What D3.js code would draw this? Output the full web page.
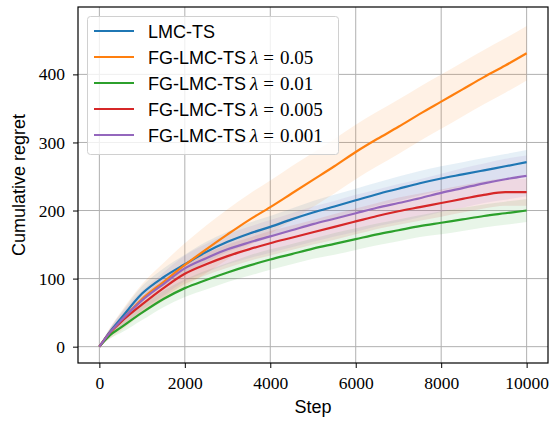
<!DOCTYPE html>
<html>
<head>
<meta charset="utf-8">
<script src="https://cdn.jsdelivr.net/npm/d3@7"></script>
<style>
  body { margin: 0; background: #fff; }
</style>
</head>
<body>
<div id="chart"></div>
<script>
// steps where the curves are sampled
const steps = [0, 250, 500, 1000, 1500, 2000, 2500, 3000, 3500, 4000, 4500, 5000,
               5500, 6000, 6500, 7000, 7500, 8000, 8500, 9000, 9500, 10000];

// mean cumulative regret per method
const lmcTs    = [0, 22, 41, 78, 102, 121, 139, 154, 166, 176, 187, 197, 206, 215, 224, 232, 240, 247, 253, 259, 265, 271];
const fg005    = [0, 20, 37, 70, 95, 120, 143, 165, 186, 205, 225, 245, 265, 286, 305, 323, 342, 360, 378, 396, 413, 431];
const fg001    = [0, 17, 28, 50, 70, 86, 98, 109, 119, 128, 136, 144, 151, 158, 165, 171, 177, 182, 187, 192, 196, 200];
const fg0005   = [0, 21, 36, 62, 86, 107, 121, 133, 143, 152, 160, 168, 176, 184, 192, 199, 205, 211, 217, 223, 227, 227];
const fg0001   = [0, 21, 38, 68, 92, 115, 130, 143, 153, 162, 171, 180, 188, 196, 204, 211, 218, 226, 233, 240, 246, 251];

// half width of the shaded band per method
const lmcTsBand  = [0, 5, 8, 11, 13, 14, 15, 15, 16, 16, 16, 17, 17, 17, 17, 18, 18, 18, 18, 18, 18, 18];
const fg005Band  = [0, 8, 14, 22, 28, 32, 35, 37, 38, 39, 40, 40, 40, 40, 40, 40, 40, 40, 40, 40, 40, 40];
const fg001Band  = [0, 5, 8, 11, 12, 13, 14, 14, 15, 15, 15, 15, 16, 16, 16, 16, 16, 17, 17, 17, 17, 17];
const fg0005Band = [0, 5, 8, 12, 14, 15, 16, 17, 17, 18, 18, 18, 19, 19, 19, 20, 20, 20, 20, 20, 20, 20];
const fg0001Band = [0, 6, 10, 14, 17, 19, 21, 22, 23, 24, 25, 26, 26, 27, 27, 28, 28, 28, 29, 29, 30, 30];

const labels  = ["LMC-TS", "FG-LMC-TS", "FG-LMC-TS", "FG-LMC-TS", "FG-LMC-TS"];
const lambdas = [null, "0.05", "0.01", "0.005", "0.001"];
const colors  = ["#1f77b4", "#ff7f0e", "#2ca02c", "#d62728", "#9467bd"];

const xTicks = [0, 2000, 4000, 6000, 8000, 10000];
const yTicks = [0, 100, 200, 300, 400];

const series = [
  { mean: lmcTs,  band: lmcTsBand },
  { mean: fg005,  band: fg005Band },
  { mean: fg001,  band: fg001Band },
  { mean: fg0005, band: fg0005Band },
  { mean: fg0001, band: fg0001Band }
];

const width = 550, height = 422;
const plotL = 78, plotR = 548, plotT = 7, plotB = 363;

const svg = d3.select("#chart").append("svg")
  .attr("width", width)
  .attr("height", height);

const x = d3.scaleLinear().domain([-500, 10500]).range([plotL, plotR]);
const y = d3.scaleLinear().domain([-24, 499]).range([plotB, plotT]);

const serifFont = "'Liberation Serif'";
const sansFont = "'Liberation Sans'";

// grid
svg.append("g").selectAll("line")
  .data(xTicks).enter().append("line")
  .attr("x1", d => x(d)).attr("x2", d => x(d))
  .attr("y1", plotT).attr("y2", plotB)
  .attr("stroke", "#b0b0b0").attr("stroke-width", 1);
svg.append("g").selectAll("line")
  .data(yTicks).enter().append("line")
  .attr("x1", plotL).attr("x2", plotR)
  .attr("y1", d => y(d)).attr("y2", d => y(d))
  .attr("stroke", "#b0b0b0").attr("stroke-width", 1);

// bands
const area = d3.area()
  .x((d, i) => x(steps[i]))
  .y0(d => y(d[0]))
  .y1(d => y(d[1]))
  .curve(d3.curveMonotoneX);

series.forEach((s, k) => {
  const pts = s.mean.map((m, i) => [m - s.band[i], m + s.band[i]]);
  svg.append("path")
    .attr("d", area(pts))
    .attr("fill", colors[k])
    .attr("fill-opacity", 0.11);
});

// lines
const line = d3.line()
  .x((d, i) => x(steps[i]))
  .y(d => y(d))
  .curve(d3.curveMonotoneX);

series.forEach((s, k) => {
  svg.append("path")
    .attr("d", line(s.mean))
    .attr("fill", "none")
    .attr("stroke", colors[k])
    .attr("stroke-width", 2.2)
    .attr("stroke-linejoin", "round");
});

// axes
const xAxis = svg.append("g")
  .attr("transform", `translate(0,${plotB})`)
  .call(d3.axisBottom(x).tickValues(xTicks).tickSize(5).tickPadding(9).tickFormat(d3.format("d")));
const yAxis = svg.append("g")
  .attr("transform", `translate(${plotL},0)`)
  .call(d3.axisLeft(y).tickValues(yTicks).tickSize(5).tickPadding(8).tickFormat(d3.format("d")));

[xAxis, yAxis].forEach(a => {
  a.attr("font-family", null).attr("font-size", null);
  a.select(".domain").remove();
  a.selectAll("line").attr("stroke", "#000").attr("stroke-width", 1);
  a.selectAll("text").attr("fill", "#000")
    .style("font-family", serifFont).style("font-size", "17.5px");
});

// frame
svg.append("rect")
  .attr("x", plotL).attr("y", plotT)
  .attr("width", plotR - plotL).attr("height", plotB - plotT)
  .attr("fill", "none").attr("stroke", "#000").attr("stroke-width", 1.2);

// axis labels
svg.append("text")
  .attr("x", (plotL + plotR) / 2)
  .attr("y", 413)
  .attr("text-anchor", "middle")
  .style("font-family", sansFont).style("font-size", "18px")
  .text("Step");

svg.append("text")
  .attr("transform", `translate(25,${(plotT + plotB) / 2}) rotate(-90)`)
  .attr("text-anchor", "middle")
  .style("font-family", sansFont).style("font-size", "18px")
  .text("Cumulative regret");

// legend
const legend = svg.append("g");
legend.append("rect")
  .attr("x", 87.5).attr("y", 16.5)
  .attr("width", 251).attr("height", 138)
  .attr("rx", 3)
  .attr("fill", "#fff").attr("fill-opacity", 0.8)
  .attr("stroke", "#d0d0d0").attr("stroke-width", 1);

const rows = legend.selectAll("g.row")
  .data(labels).enter().append("g")
  .attr("transform", (d, i) => `translate(0,${31 + i * 26})`);

rows.append("line")
  .attr("x1", 94).attr("x2", 134)
  .attr("y1", 0).attr("y2", 0)
  .attr("stroke", (d, i) => colors[i])
  .attr("stroke-width", 2.2);

const txt = rows.append("text")
  .attr("x", 148).attr("y", 6.5)
  .style("font-size", "18px");
txt.append("tspan")
  .style("font-family", sansFont)
  .text(d => d);
txt.each(function(d, i) {
  if (!lambdas[i]) return;
  const t = d3.select(this);
  t.append("tspan")
    .style("font-family", serifFont).style("font-style", "italic")
    .style("font-size", "19px")
    .attr("dx", 4)
    .text("λ");
  t.append("tspan")
    .style("font-family", serifFont)
    .style("font-size", "19px")
    .attr("dx", 5)
    .text("=");
  t.append("tspan")
    .style("font-family", serifFont)
    .style("font-size", "19px")
    .attr("dx", 6)
    .text(lambdas[i]);
});
</script>
</body>
</html>
